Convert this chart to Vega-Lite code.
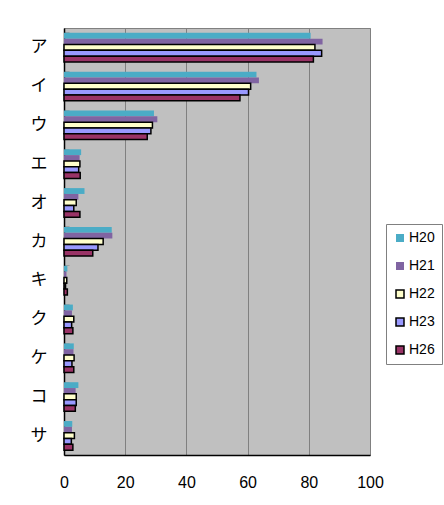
{
  "$schema": "https://vega.github.io/schema/vega-lite/v6.json",
  "width": 306,
  "height": 427,
  "autosize": "none",
  "padding": {"left": 64, "top": 28, "right": 74, "bottom": 50},
  "background": "white",
  "config": {
    "view": {"fill": "#C0C0C0", "stroke": "#808080", "strokeWidth": 1},
    "font": "Liberation Sans"
  },
  "data": {
    "values": [
      {"item": "ア", "series": "H20", "value": 80.6},
      {"item": "ア", "series": "H21", "value": 84.5},
      {"item": "ア", "series": "H22", "value": 82.0},
      {"item": "ア", "series": "H23", "value": 84.2},
      {"item": "ア", "series": "H26", "value": 81.5},
      {"item": "イ", "series": "H20", "value": 62.9},
      {"item": "イ", "series": "H21", "value": 63.7},
      {"item": "イ", "series": "H22", "value": 61.0},
      {"item": "イ", "series": "H23", "value": 60.3},
      {"item": "イ", "series": "H26", "value": 57.5},
      {"item": "ウ", "series": "H20", "value": 29.4},
      {"item": "ウ", "series": "H21", "value": 30.5},
      {"item": "ウ", "series": "H22", "value": 28.9},
      {"item": "ウ", "series": "H23", "value": 28.4},
      {"item": "ウ", "series": "H26", "value": 27.2},
      {"item": "エ", "series": "H20", "value": 5.6},
      {"item": "エ", "series": "H21", "value": 5.1},
      {"item": "エ", "series": "H22", "value": 5.2},
      {"item": "エ", "series": "H23", "value": 4.8},
      {"item": "エ", "series": "H26", "value": 5.3},
      {"item": "オ", "series": "H20", "value": 6.7},
      {"item": "オ", "series": "H21", "value": 4.7},
      {"item": "オ", "series": "H22", "value": 4.0},
      {"item": "オ", "series": "H23", "value": 3.2},
      {"item": "オ", "series": "H26", "value": 5.2},
      {"item": "カ", "series": "H20", "value": 15.6},
      {"item": "カ", "series": "H21", "value": 15.8},
      {"item": "カ", "series": "H22", "value": 12.8},
      {"item": "カ", "series": "H23", "value": 11.1},
      {"item": "カ", "series": "H26", "value": 9.4},
      {"item": "キ", "series": "H20", "value": 1.1},
      {"item": "キ", "series": "H21", "value": 0.8},
      {"item": "キ", "series": "H22", "value": 0.9},
      {"item": "キ", "series": "H23", "value": 0.5},
      {"item": "キ", "series": "H26", "value": 1.1},
      {"item": "ク", "series": "H20", "value": 2.9},
      {"item": "ク", "series": "H21", "value": 2.6},
      {"item": "ク", "series": "H22", "value": 3.2},
      {"item": "ク", "series": "H23", "value": 2.5},
      {"item": "ク", "series": "H26", "value": 2.9},
      {"item": "ケ", "series": "H20", "value": 3.2},
      {"item": "ケ", "series": "H21", "value": 3.1},
      {"item": "ケ", "series": "H22", "value": 3.3},
      {"item": "ケ", "series": "H23", "value": 2.6},
      {"item": "ケ", "series": "H26", "value": 3.2},
      {"item": "コ", "series": "H20", "value": 4.7},
      {"item": "コ", "series": "H21", "value": 3.8},
      {"item": "コ", "series": "H22", "value": 4.0},
      {"item": "コ", "series": "H23", "value": 4.0},
      {"item": "コ", "series": "H26", "value": 3.7},
      {"item": "サ", "series": "H20", "value": 2.7},
      {"item": "サ", "series": "H21", "value": 2.6},
      {"item": "サ", "series": "H22", "value": 3.4},
      {"item": "サ", "series": "H23", "value": 2.4},
      {"item": "サ", "series": "H26", "value": 2.9}
    ]
  },
  "mark": {"type": "bar", "strokeWidth": 1.5},
  "encoding": {
    "y": {
      "field": "item",
      "type": "nominal",
      "sort": ["ア", "イ", "ウ", "エ", "オ", "カ", "キ", "ク", "ケ", "コ", "サ"],
      "scale": {"paddingInner": 0.25, "paddingOuter": 0.125},
      "axis": {
        "title": null,
        "labelFont": "Noto Sans CJK JP",
        "labelFontSize": 17,
        "labelColor": "black",
        "labelPadding": 22,
        "ticks": true,
        "bandPosition": 0,
        "tickSize": -5,
        "tickColor": "#A0A0A0",
        "domainColor": "black",
        "domainWidth": 1.5,
        "grid": false
      }
    },
    "yOffset": {
      "field": "series",
      "sort": ["H20", "H21", "H22", "H23", "H26"]
    },
    "x": {
      "field": "value",
      "type": "quantitative",
      "scale": {"domain": [0, 100], "nice": false},
      "axis": {
        "values": [0, 20, 40, 60, 80, 100],
        "title": null,
        "grid": true,
        "gridColor": "#808080",
        "gridWidth": 1,
        "ticks": false,
        "labelFlush": false,
        "labelFont": "Liberation Sans",
        "labelFontSize": 16,
        "labelColor": "black",
        "labelPadding": 19,
        "domainColor": "black",
        "domainWidth": 1.5
      }
    },
    "fill": {
      "field": "series",
      "type": "nominal",
      "scale": {
        "domain": ["H20", "H21", "H22", "H23", "H26"],
        "range": ["#4BACC6", "#8064A2", "#FFFFCC", "#9999FF", "#993366"]
      },
      "legend": {
        "title": null,
        "orient": "none",
        "legendX": 322,
        "legendY": 196,
        "symbolType": "square",
        "symbolSize": 64,
        "symbolStrokeWidth": 1.5,
        "labelFont": "Liberation Sans",
        "labelFontSize": 14,
        "labelColor": "black",
        "labelOffset": 2,
        "rowPadding": 14,
        "padding": 7,
        "strokeColor": "#808080",
        "fillColor": "white"
      }
    },
    "stroke": {
      "field": "series",
      "type": "nominal",
      "scale": {
        "domain": ["H20", "H21", "H22", "H23", "H26"],
        "range": ["transparent", "transparent", "black", "black", "black"]
      },
      "legend": null
    }
  }
}
